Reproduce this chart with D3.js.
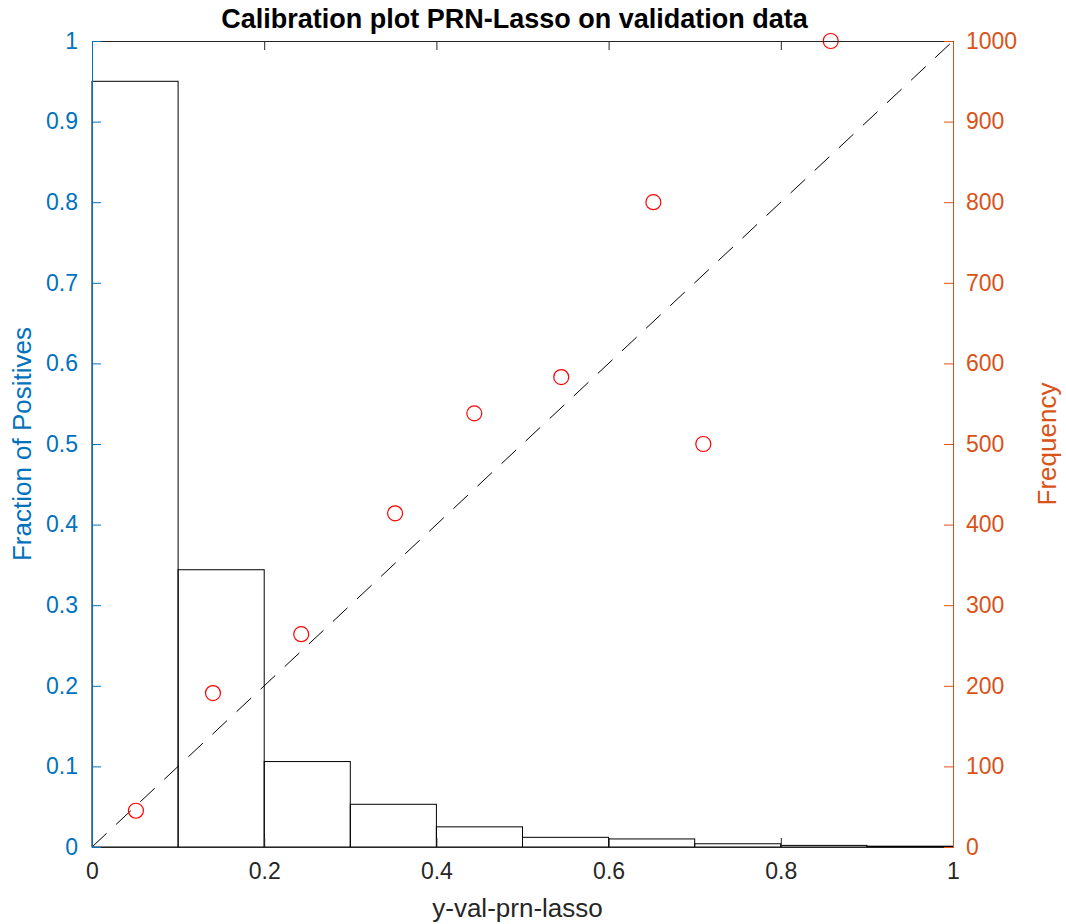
<!DOCTYPE html>
<html>
<head>
<meta charset="utf-8">
<script src="https://cdn.jsdelivr.net/npm/d3@7"></script>
<style>
  body { margin: 0; background: #fff; }
  svg { font-family: "Liberation Sans", Arial, sans-serif; }
</style>
</head>
<body>
<div id="chart"></div>
<script>
    // histogram bins (x edges) and frequency counts
    var binEdges = [0, 0.1, 0.2, 0.3, 0.4, 0.5, 0.6, 0.7, 0.8, 0.9, 1.0]
    var binCounts = [950, 344, 106, 53, 25, 12, 10, 4, 2, 1]
    // calibration points: mean predicted vs fraction of positives
    var predMean = [0.051, 0.1405, 0.243, 0.352, 0.444, 0.545, 0.652, 0.710, 0.858]
    var fracPos = [0.045, 0.191, 0.264, 0.414, 0.538, 0.583, 0.800, 0.500, 1.000]
    var xTicks = [0, 0.2, 0.4, 0.6, 0.8, 1]
    var yTicks = [0, 0.1, 0.2, 0.3, 0.4, 0.5, 0.6, 0.7, 0.8, 0.9, 1]
    var freqTicks = [0, 100, 200, 300, 400, 500, 600, 700, 800, 900, 1000]

    var blue = '#0072BD', orange = '#D95319', dark = '#262626'
    var margin = {top: 41, right: 113, bottom: 77, left: 92}
    var W = 1066, H = 924
    var width = W - margin.left - margin.right
    var height = H - margin.top - margin.bottom

    var svg = d3.select('#chart').append('svg')
      .attr('width', W).attr('height', H)
    var g = svg.append('g')
      .attr('transform', 'translate(' + margin.left + ',' + margin.top + ')')

    var x = d3.scaleLinear().domain([0, 1]).range([0, width])
    var y = d3.scaleLinear().domain([0, 1]).range([height, 0])
    var yF = d3.scaleLinear().domain([0, 1000]).range([height, 0])

    //histogram bars
    g.selectAll('.bar')
      .data(binCounts)
      .enter().append('rect')
      .attr('x', function(d, i) { return x(binEdges[i]) })
      .attr('y', function(d) { return yF(d) })
      .attr('width', function(d, i) { return x(binEdges[i + 1]) - x(binEdges[i]) })
      .attr('height', function(d) { return height - yF(d) })
      .attr('fill', 'none')
      .attr('stroke', '#000')
      .attr('stroke-width', 1)

    // diagonal reference
    g.append('line')
      .attr('x1', x(0)).attr('y1', y(0))
      .attr('x2', x(1)).attr('y2', y(1))
      .attr('stroke', '#000')
      .attr('stroke-width', 1)
      .attr('stroke-dasharray', '20,13')

    g.selectAll('.pt')
      .data(predMean)
      .enter().append('circle')
      .attr('cx', function(d) { return x(d) })
      .attr('cy', function(d, i) { return y(fracPos[i]) })
      .attr('r', 7.5)
      .attr('fill', 'none')
      .attr('stroke', '#ff0000')
      .attr('stroke-width', 1.2)

    function styleAxis(sel, color) {
      sel.attr('font-family', null)
      sel.select('.domain').attr('stroke', color)
      sel.selectAll('.tick line').attr('stroke', color)
      sel.selectAll('.tick text').attr('fill', color).attr('font-size', 23)
    }

    var fmt = function(d) { return d3.format('')(d) }

    // bottom + top x axes
    var xAxis = g.append('g')
      .attr('transform', 'translate(0,' + height + ')')
      .call(d3.axisBottom(x).tickValues(xTicks).tickSizeInner(-9).tickSizeOuter(0).tickPadding(16).tickFormat(fmt))
    styleAxis(xAxis, dark)

    var xTop = g.append('g')
      .call(d3.axisTop(x).tickValues(xTicks).tickSizeInner(-9).tickSizeOuter(0).tickFormat(''))
    styleAxis(xTop, dark)

    var yAxis = g.append('g')
      .call(d3.axisLeft(y).tickValues(yTicks).tickSizeInner(-9).tickSizeOuter(0).tickPadding(14).tickFormat(fmt))
    styleAxis(yAxis, blue)

    var yAxisR = g.append('g')
      .attr('transform', 'translate(' + width + ',0)')
      .call(d3.axisRight(yF).tickValues(freqTicks).tickSizeInner(-9).tickSizeOuter(0).tickPadding(13).tickFormat(d3.format('d')))
    styleAxis(yAxisR, orange)

    svg.selectAll('.domain').attr('stroke-width', 1)

    // labels
    svg.append('text')
      .attr('x', margin.left + width / 2 - 8).attr('y', 28)
      .attr('text-anchor', 'middle')
      .attr('font-size', 27).attr('font-weight', 'bold')
      .attr('fill', '#000')
      .text('Calibration plot PRN-Lasso on validation data')

    svg.append('text')
      .attr('x', margin.left + width / 2 - 5).attr('y', 917)
      .attr('text-anchor', 'middle')
      .attr('font-size', 26).attr('fill', dark)
      .text('y-val-prn-lasso')

    svg.append('text')
      .attr('transform', 'translate(31,' + (margin.top + height / 2) + ') rotate(-90)')
      .attr('text-anchor', 'middle')
      .attr('font-size', 26).attr('fill', blue)
      .text('Fraction of Positives')

    svg.append('text')
      .attr('transform', 'translate(1056,' + (margin.top + height / 2) + ') rotate(-90)')
      .attr('text-anchor', 'middle')
      .attr('font-size', 26).attr('fill', orange)
      .text('Frequency')
</script>
</body>
</html>
